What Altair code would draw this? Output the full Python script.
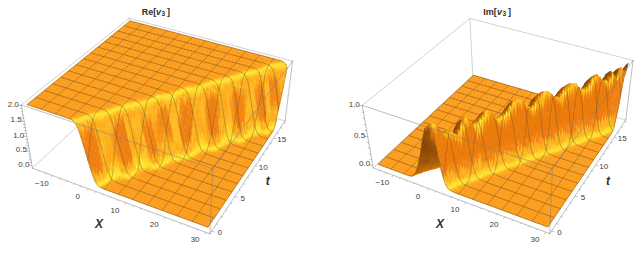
import numpy as np
import altair as alt

# ---------- values ----------
WALL_T = [i * 0.5 for i in range(37)]
WALL_C = [-1.0,-0.2,0.5,1.5,2.6,3.4,4.1,4.8,6.0,7.0,7.7,8.6,9.7,10.6,11.2,12.2,13.2,14.0,14.8,
          15.9,16.9,17.7,18.4,19.3,20.5,21.3,22.0,23.0,24.0,24.9,25.6,26.3,27.5,28.3,28.9,29.8,30.8]
RE_WIDTH = [1.0,.9,.85,1.0,1.15,1.1,.9,.85,1.0,1.2,1.1,.9,.85,1.0,1.15,1.1,.9,.85,1.05,
            1.2,1.05,.9,.85,1.0,1.15,1.1,.9,.85,1.0,1.2,1.1,.9,.85,1.0,1.15,1.05,.9]
IM_HEIGHT = [1.0,1.0,.8,.84,.72,.92,.95,.78,.86,.96,.9,.76,.8,.9,.97,.96,.85,.76,.9,
             .98,.96,.84,.8,.93,.98,.95,.82,.8,.95,.99,.9,.8,.97,.82,.98,.85,1.0]
IM_SHIFT_T = [0, 18]
IM_SHIFT = [2.5, 0.0]
RE_S = [-3.5,-2.3,-1.7,-1.1,-.5,.1,.7,1.3,1.9,2.5,3.1,3.7,4.9]
RE_Z = [2.0,1.99,1.96,1.88,1.68,1.35,1.0,.65,.32,.12,.04,.01,0.0]
IM_S = [-7.5,-6.5,-5.5,-4.5,-3.5,-2.5,-1.5,-.7,0,.6,1.2,1.8,2.4,3,3.7,5]
IM_Z = [0.0,.02,.1,.25,.46,.72,.92,.98,1.0,.9,.62,.32,.13,.04,.01,0.0]

X_MIN, X_MAX, T_MIN, T_MAX = -15.0, 30.0, 0.0, 18.0
X_CELLS, T_CELLS = 12, 14
X_SUB, T_SUB = 9, 7

# colour of the lit surface against facing value
SHADE_V = [-40,-18,-8,-2.5,0,1,2,4.5,8,11,13,16,30]
SHADE_R = [40,85,160,225,252,255,255,255,252,255,244,238,240]
SHADE_G = [20,45,85,128,155,200,236,215,165,190,136,124,136]
SHADE_B = [5,5,8,15,22,36,50,40,22,34,16,14,14]

XT_MAJOR = [-10,0,10,20,30]
T_MAJOR = [0,5,10,15]

PANELS = [
    dict(name="Re", s=RE_S, z=RE_Z, zlo=-0.09, zhi=2.02, dark=1.6, crest=0,
         zticks=[0.0,0.5,1.0,1.5,2.0],
         corners=[(31.7,167.7),(210.7,233),(132,76),(285,121.7),(21.7,105),(212.3,170),(129.3,18.3),(292.3,60)],
         xlabel=(99,224), tlabel=(267.7,181)),
    dict(name="Im", s=IM_S, z=IM_Z, zlo=-0.045, zhi=1.01, dark=3.2, crest=3,
         zticks=[0.0,0.5,1.0],
         corners=[(372.7,167.7),(550,233),(472.7,76),(626,120),(362.7,105),(552.3,170),(470,18.3),(632.7,60)],
         xlabel=(440,224), tlabel=(608,181)),
]
TITLES = [("Re[",141.7,"b"),("v",156,"i"),("3",161.5,"s"),("]",167,"b"),
          ("Im[",483.3,"b"),("v",497,"i"),("3",502.5,"s"),("]",508,"b")]

LINE = "rgba(105,72,28,0.6)"
BOX = "#c6c6c6"
BOX_FRONT = "rgba(125,125,125,0.62)"
TICK = "#9a9a9a"
TXT = "#3c3c3c"
FONT = "Liberation Sans"


def camera(corners):
    world = [(u, v, w) for w in (0, 1) for v in (0, 1) for u in (0, 1)]
    A = []
    for (u, v, w), (px, py) in zip(world, corners):
        A.append([u, v, w, 1, 0, 0, 0, 0, -px*u, -px*v, -px*w, -px])
        A.append([0, 0, 0, 0, u, v, w, 1, -py*u, -py*v, -py*w, -py])
    return np.linalg.svd(np.array(A, float))[2][-1].reshape(3, 4)


def make_panel(p):
    P = camera(p["corners"])
    box_x0, box_x1 = X_MIN - 0.9, X_MAX + 0.9
    box_t0, box_t1 = T_MIN - 0.36, T_MAX + 0.36
    zlo, zhi = p["zlo"], p["zhi"]

    def proj(x, t, z):
        q = P @ np.array([(x-box_x0)/(box_x1-box_x0), (t-box_t0)/(box_t1-box_t0), (z-zlo)/(zhi-zlo), 1.0])
        return [round(float(q[0]/q[2]-8), 2), round(float(q[1]/q[2]-8), 2)]

    xs = np.linspace(X_MIN, X_MAX, X_CELLS*X_SUB+1)
    ts = np.linspace(T_MIN, T_MAX, T_CELLS*T_SUB+1)
    c = np.interp(ts, WALL_T, WALL_C)
    if p["name"] == "Re":
        w = np.interp(ts, WALL_T, RE_WIDTH)
        Z = np.array([np.interp((xs-c[j])/w[j], p["s"], p["z"]) for j in range(len(ts))])
    else:
        h = np.interp(ts, WALL_T, IM_HEIGHT)
        sh = np.interp(ts, IM_SHIFT_T, IM_SHIFT)
        Z = np.array([h[j]*np.interp(xs-c[j]-sh[j], p["s"], p["z"]) for j in range(len(ts))])

    feats = []

    def poly(coords, col):
        feats.append({"type": "Feature", "properties": {"f": col, "s": col, "w": 0.45},
                      "geometry": {"type": "Polygon", "coordinates": [coords + [coords[0]]]}})

    def lines(segs, col=LINE, w=0.6):
        if segs:
            feats.append({"type": "Feature", "properties": {"f": "none", "s": col, "w": w},
                          "geometry": {"type": "MultiLineString", "coordinates": segs}})

    def box_edge(a, b):
        q = lambda e: proj(box_x0 if e[0]==0 else box_x1, box_t0 if e[1]==0 else box_t1, zlo if e[2]==0 else zhi)
        return [q(a), q(b)]

    lines([box_edge((0,1,0),(0,1,1)), box_edge((0,0,0),(0,1,0)), box_edge((0,1,0),(1,1,0))], BOX, 0.8)
    lines([box_edge((0,0,1),(0,1,1)), box_edge((0,1,1),(1,1,1))], BOX, 0.8)

    nt, nx = len(ts)-1, len(xs)-1
    rng = zhi-zlo
    for j in range(nt-1, -1, -1):
        run, segs = None, []

        def flush():
            nonlocal run, segs
            if run is not None:
                i0, i1, col = run
                poly([proj(xs[i0],ts[j],Z[j,i0]), proj(xs[i1],ts[j],Z[j,i1]),
                      proj(xs[i1],ts[j+1],Z[j+1,i1]), proj(xs[i0],ts[j+1],Z[j+1,i0])], col)
                lines(segs)
            run, segs = None, []

        for i in range(nx):
            z00, z10, z01, z11 = Z[j,i], Z[j,i+1], Z[j+1,i], Z[j+1,i+1]
            gx = ((z10+z11-z00-z01)/2)/(xs[i+1]-xs[i])*45/rng
            gt = ((z01+z11-z00-z10)/2)/(ts[j+1]-ts[j])*18/rng
            front = -gx + 0.7*gt
            resid = gt + 0.7*gx
            weight = (max((z00+z10+z01+z11)/4, 0.0)/zhi)**p["crest"]
            v = front*0.7 - p["dark"]*weight*resid
            col = "#%02x%02x%02x" % (int(np.interp(v,SHADE_V,SHADE_R)),
                                     int(np.interp(v,SHADE_V,SHADE_G)),
                                     int(np.interp(v,SHADE_V,SHADE_B)))
            cell_segs = []
            if (j+1) % T_SUB == 0:
                cell_segs.append([proj(xs[i],ts[j+1],z01), proj(xs[i+1],ts[j+1],z11)])
            if i % X_SUB == 0:
                cell_segs.append([proj(xs[i],ts[j],z00), proj(xs[i],ts[j+1],z01)])
            if j == 0:
                cell_segs.append([proj(xs[i],ts[j],z00), proj(xs[i+1],ts[j],z10)])
            if i == nx-1:
                cell_segs.append([proj(xs[i+1],ts[j],z10), proj(xs[i+1],ts[j+1],z11)])
            flat = max(z00,z10,z01,z11)-min(z00,z10,z01,z11) < 1e-3
            if flat and run is not None and run[2] == col:
                run[1] = i+1
                segs += cell_segs
            else:
                flush()
                if flat:
                    run = [i, i+1, col]
                    segs = cell_segs
                else:
                    poly([proj(xs[i],ts[j],z00), proj(xs[i+1],ts[j],z10),
                          proj(xs[i+1],ts[j+1],z11), proj(xs[i],ts[j+1],z01)], col)
                    lines(cell_segs)
        flush()

    # front box edges over the surface
    lines([box_edge((0,0,0),(1,0,0)), box_edge((1,0,0),(1,1,0)), box_edge((0,0,0),(0,0,1)),
           box_edge((1,0,0),(1,0,1)), box_edge((1,1,0),(1,1,1)),
           box_edge((0,0,1),(1,0,1)), box_edge((1,0,1),(1,1,1))], BOX_FRONT, 0.8)

    # ticks and labels
    ticks, labels = [], []
    for x in np.arange(-14, 31, 2.0):
        L = 3.0 if x % 10 == 0 else 1.6
        a = proj(x, box_t0, zlo)
        ticks.append([a, [a[0]-L*0.55, a[1]+L*0.55]])
    for t in np.arange(0, 19, 1.0):
        L = 3.0 if t % 5 == 0 else 1.6
        a = proj(box_x1, t, zlo)
        ticks.append([a, [a[0]+L*0.8, a[1]+L*0.25]])
    ztop = p["zticks"][-1]
    zstep = (ztop)/ (len(p["zticks"])-1) / 5
    for k in range(int(round((ztop)/zstep))+1):
        zv = k*zstep
        L = 3.0 if k % 5 == 0 else 1.6
        a = proj(box_x0, box_t0, zv)
        ticks.append([a, [a[0]-L, a[1]-L*0.1]])
    lines(ticks, TICK, 0.6)

    for x in XT_MAJOR:
        a = proj(x, box_t0, zlo)
        labels.append(dict(text=str(x).replace("-", "\u2212"), x=a[0]-11, y=a[1]+8, a="center"))
    for t in T_MAJOR:
        a = proj(box_x1, t, zlo)
        labels.append(dict(text=str(t), x=a[0]+8, y=a[1]+2, a="center"))
    for zv in p["zticks"]:
        a = proj(box_x0, box_t0, zv)
        labels.append(dict(text="%.1f" % zv, x=a[0]-2.6, y=a[1]-1, a="right"))
    return feats, labels


all_feats, tick_labels = [], []
for p in PANELS:
    f, l = make_panel(p)
    all_feats += f
    tick_labels += l

PROJ = dict(type="identity", scale=1, translate=[0, 0])

surface = alt.Chart(alt.Data(values=all_feats)).mark_geoshape(strokeCap="round").encode(
    fill=alt.Fill("properties.f:N", scale=None),
    stroke=alt.Stroke("properties.s:N", scale=None),
    strokeWidth=alt.StrokeWidth("properties.w:Q", scale=None),
).project(**PROJ)


def text_layer(rows, align, **kw):
    return alt.Chart(alt.Data(values=rows)).mark_text(align=align, baseline="middle", font=FONT, **kw).encode(
        longitude="x:Q", latitude="y:Q", text="text:N").project(**PROJ)


centre = [r for r in tick_labels if r["a"] == "center"]
right = [r for r in tick_labels if r["a"] == "right"]
bold = [dict(text=t, x=x-8, y=3.7) for t, x, k in TITLES if k == "b"]
ital = [dict(text=t, x=x-8, y=3.7) for t, x, k in TITLES if k == "i"]
subs = [dict(text=t, x=x-8, y=5.7) for t, x, k in TITLES if k == "s"]
axis_names = [dict(text=n, x=p[k][0]-8, y=p[k][1]-8) for p in PANELS for n, k in (("X","xlabel"),("t","tlabel"))]

chart = alt.layer(
    surface,
    text_layer(centre, "center", fontSize=8, color=TXT),
    text_layer(right, "right", fontSize=8, color=TXT),
    text_layer(bold, "left", fontSize=9, fontWeight="bold", color="#303030"),
    text_layer(ital, "left", fontSize=9, fontWeight="bold", fontStyle="italic", color="#303030"),
    text_layer(subs, "left", fontSize=6.5, fontWeight="bold", color="#303030"),
    text_layer(axis_names, "center", fontSize=12, fontWeight="bold", fontStyle="italic", color="#303030"),
).properties(width=627, height=237, padding=0).configure_view(stroke=None)

chart.save("out.html", embed_options={"renderer": "svg", "actions": False})
